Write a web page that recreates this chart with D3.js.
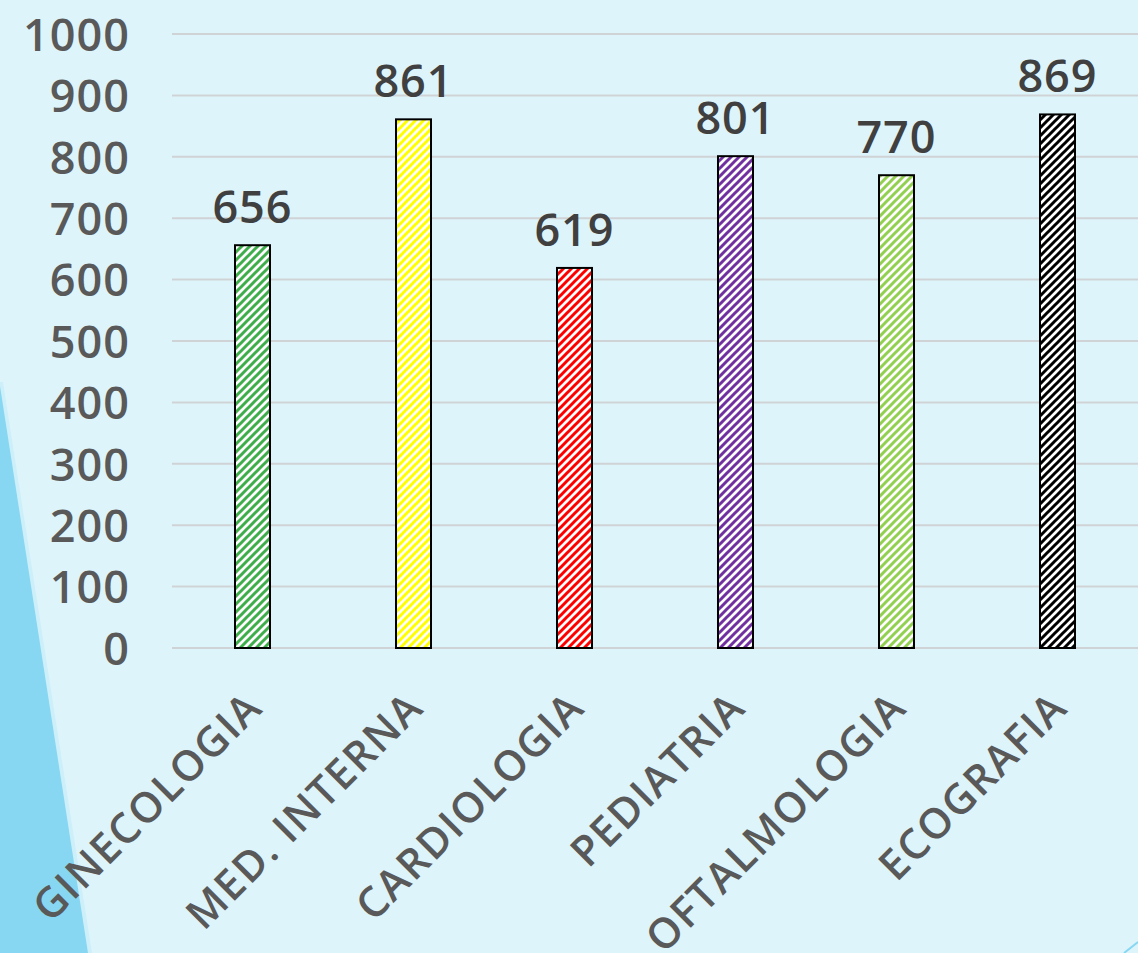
<!DOCTYPE html>
<html><head><meta charset="utf-8">
<script src="https://cdn.jsdelivr.net/npm/d3@7/dist/d3.min.js"></script>
<style>html,body{margin:0;padding:0;background:#DEF4FB;overflow:hidden}</style>
</head><body>
<svg id="chart" width="1138" height="953"></svg>
<script>
const categories = ["GINECOLOGIA","MED. INTERNA","CARDIOLOGIA","PEDIATRIA","OFTALMOLOGIA","ECOGRAFIA"];
const values = [656, 861, 619, 801, 770, 869];
const barColors = ["#3DAE49","#FFFF00","#FF0000","#7030A0","#92D050","#000000"];
const yTicks = [0,100,200,300,400,500,600,700,800,900,1000];

const W = 1138, H = 953;
const svg = d3.select("#chart");
const font = "'Open Sans', sans-serif";

// background
svg.append("rect").attr("width", W).attr("height", H).attr("fill", "#DEF4FB");
svg.append("polygon").attr("points", "0,382 3,382 92,953 0,953").attr("fill", "#CDEFFA");
svg.append("polygon").attr("points", "0,386 88,953 0,953").attr("fill", "#87D7F2");
svg.append("line").attr("x1", 1124).attr("y1", 953).attr("x2", 1138).attr("y2", 942)
  .attr("stroke", "#87D7F2").attr("stroke-width", 2);

// patterns
const defs = svg.append("defs");
barColors.forEach((c, i) => {
  const p = defs.append("pattern").attr("id", "hatch" + i)
    .attr("patternUnits", "userSpaceOnUse").attr("width", 8).attr("height", 8);
  p.append("rect").attr("width", 8).attr("height", 8).attr("fill", "#fff");
  p.append("path").attr("d", "M-2,2 L2,-2 M0,8 L8,0 M6,10 L10,6")
    .attr("stroke", c).attr("stroke-width", 3).attr("stroke-linecap", "square");
});

const x = d3.scaleBand().domain(categories).range([172, 1138]).paddingInner(0).paddingOuter(0);
const y = d3.scaleLinear().domain([0, 1000]).range([648, 34]);

// gridlines
svg.append("g").selectAll("line").data(yTicks).join("line")
  .attr("x1", 172).attr("x2", W)
  .attr("y1", d => y(d)).attr("y2", d => y(d))
  .attr("stroke", "#CFD3D6").attr("stroke-width", 2);

// y axis labels
const yAxis = d3.axisLeft(y).tickValues(yTicks).tickFormat(d3.format("d")).tickSize(0).tickPadding(0);
const gy = svg.append("g").attr("transform", "translate(130,0)").call(yAxis);
gy.select(".domain").remove();
gy.selectAll("text").attr("font-family", font).attr("font-weight", 600)
  .attr("font-size", 45).attr("letter-spacing", 1).attr("fill", "#595959").attr("dy", "0.36em");

// bars
const bw = 35;
svg.append("g").selectAll("rect").data(values).join("rect")
  .attr("x", (d, i) => x(categories[i]) + x.bandwidth() / 2 - bw / 2)
  .attr("y", d => y(d))
  .attr("width", bw)
  .attr("height", d => y(0) - y(d))
  .attr("fill", (d, i) => "url(#hatch" + i + ")")
  .attr("stroke", "#000").attr("stroke-width", 2);

// data labels
svg.append("g").selectAll("text").data(values).join("text")
  .attr("x", (d, i) => x(categories[i]) + x.bandwidth() / 2)
  .attr("y", d => y(d) - 22)
  .attr("text-anchor", "middle")
  .attr("font-family", font).attr("font-weight", 600).attr("font-size", 45)
  .attr("letter-spacing", 1)
  .attr("fill", "#404040")
  .text(d => d);

// x labels
svg.append("g").selectAll("text").data(categories).join("text")
  .attr("transform", d => `translate(${x(d) + x.bandwidth() / 2 + 12},710) rotate(-45)`)
  .attr("text-anchor", "end")
  .attr("font-family", font).attr("font-weight", 600).attr("font-size", 42)
  .attr("letter-spacing", 1.5)
  .attr("fill", "#595959")
  .text(d => d);
</script>
</body></html>
